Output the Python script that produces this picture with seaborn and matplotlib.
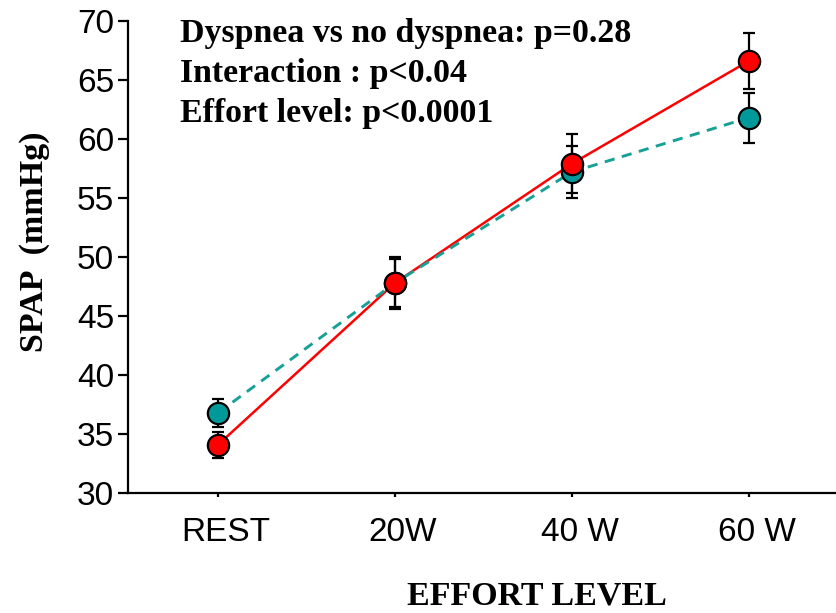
import numpy as np
import pandas as pd
import matplotlib
matplotlib.use("Agg")
import matplotlib.pyplot as plt
import matplotlib.transforms as mtransforms
import seaborn as sns

# ---- data ----
levels = ["REST", "20W", "40 W", "60 W"]
dyspnea_mean = [34.1, 47.8, 57.9, 66.6]
dyspnea_se = [1.1, 2.2, 2.5, 2.35]
no_dyspnea_mean = [36.8, 47.8, 57.2, 61.8]
no_dyspnea_se = [1.2, 2.0, 2.2, 2.1]
annotations = ["Dyspnea vs no dyspnea: p=0.28",
               "Interaction : p<0.04",
               "Effort level: p<0.0001"]

RED = "#FF0000"
TEAL = "#009999"
TEAL_LINE = "#17A096"

sns.set_style("ticks")
plt.rcParams["font.family"] = ["Liberation Sans", "DejaVu Sans"]

pos = np.arange(len(levels))
df = pd.DataFrame({
    "pos": np.concatenate([pos, pos]),
    "spap": dyspnea_mean + no_dyspnea_mean,
    "group": ["Dyspnea"] * 4 + ["No dyspnea"] * 4,
})

fig = plt.figure(figsize=(8.37, 6.13), dpi=100)
W, H = 837, 613
ax = fig.add_axes([128 / W, (H - 493) / H, (W - 128) / W, 472 / H])

# lines: red first, teal dashed over it
sns.lineplot(data=df[df.group == "Dyspnea"], x="pos", y="spap", color=RED,
             linewidth=1.8, ax=ax, zorder=2, legend=False)
sns.lineplot(data=df[df.group == "No dyspnea"], x="pos", y="spap", color=TEAL_LINE,
             linewidth=2.1, ax=ax, zorder=3, legend=False)
ax.lines[-1].set_dashes((3.5, 2.6))

# error bars
ax.errorbar(pos, no_dyspnea_mean, yerr=no_dyspnea_se, fmt="none", ecolor="black",
            elinewidth=1.6, capsize=4, capthick=1.6, zorder=4)
ax.errorbar(pos, dyspnea_mean, yerr=dyspnea_se, fmt="none", ecolor="black",
            elinewidth=1.6, capsize=4, capthick=1.6, zorder=4)

# markers: teal then red on top
sns.scatterplot(data=df[df.group == "No dyspnea"], x="pos", y="spap", color=TEAL,
                s=235, edgecolor="black", linewidth=1.6, ax=ax, zorder=5, legend=False)
sns.scatterplot(data=df[df.group == "Dyspnea"], x="pos", y="spap", color=RED,
                s=235, edgecolor="black", linewidth=1.6, ax=ax, zorder=6, legend=False)

ax.set_xlim(-0.51, 3.5)
ax.set_ylim(30, 70)
ax.set_yticks(np.arange(30, 71, 5))
ax.set_xticks(pos)
ax.set_xticklabels(levels)

sns.despine(ax=ax)
for s in ["left", "bottom"]:
    ax.spines[s].set_linewidth(1.6)
    ax.spines[s].set_color("black")
ax.tick_params(axis="y", length=7, width=1.6, pad=3, labelsize=24, colors="black")
ax.tick_params(axis="x", length=3, width=1.6, pad=14, labelsize=24, colors="black")
shift = mtransforms.ScaledTranslation(8 / 100, 0, fig.dpi_scale_trans)
for lab in ax.get_xticklabels():
    lab.set_transform(lab.get_transform() + shift)

serif = ["Liberation Serif", "DejaVu Serif"]
ax.set_xlabel("EFFORT LEVEL", fontsize=24.5, fontweight="bold", family=serif, color="black")
ax.set_ylabel("SPAP  (mmHg)", fontsize=24.5, fontweight="bold", family=serif, color="black")
ax.xaxis.set_label_coords(0.577, -0.185)
ax.yaxis.set_label_coords(-0.11, 0.532)

ys = [68.22, 64.83, 61.44]
for t, y in zip(annotations, ys):
    ax.text(-0.215, y, t, fontsize=24.4, fontweight="bold", family=serif,
            ha="left", va="baseline", color="black")

fig.savefig("out.png", dpi=100)
